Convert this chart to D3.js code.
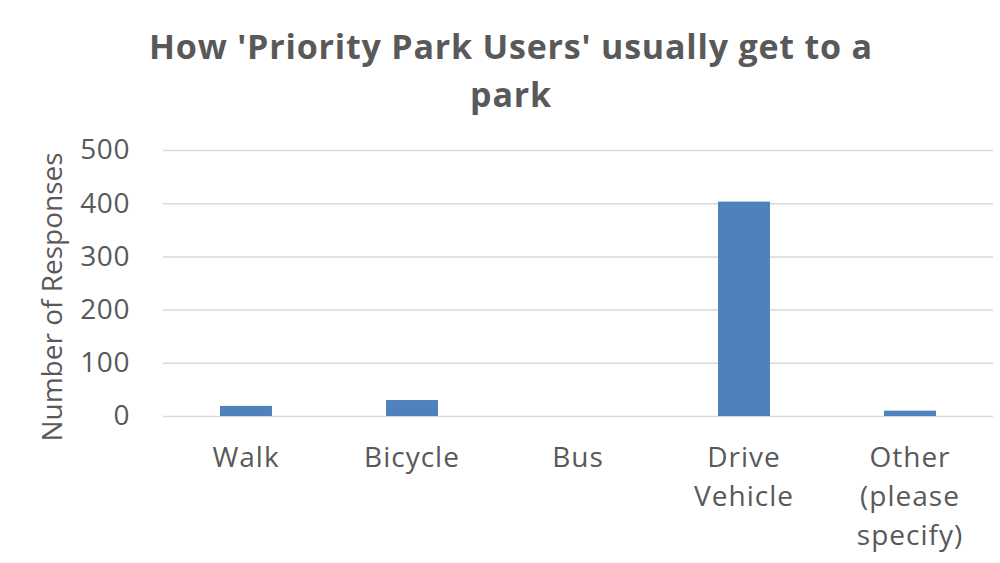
<!DOCTYPE html>
<html><head><meta charset="utf-8">
<script src="https://cdn.jsdelivr.net/npm/d3@7"></script>
<style>body{margin:0;background:#fff}svg{display:block}</style>
</head><body>
<script>
const categories = ["Walk", "Bicycle", "Bus", "Drive Vehicle", "Other (please specify)"];
const values = [19, 30, 0, 403, 10];
const yTicks = [0, 100, 200, 300, 400, 500];
const titleLines = ["How 'Priority Park Users' usually get to a", "park"];
const yTitle = "Number of Responses";

const W = 1000, H = 563;
const m = {left: 163, right: 7, top: 150, bottom: 147};
const svg = d3.select("body").append("svg").attr("width", W).attr("height", H);
const font = "'Open Sans', 'Liberation Sans', sans-serif";
const grey = "#595959";

const x = d3.scaleBand().domain(categories).range([m.left, W - m.right]).paddingInner(0.687).paddingOuter(0.3435);
const y = d3.scaleLinear().domain([0, 500]).range([H - m.bottom, m.top]);

// gridlines
const yAxis = d3.axisLeft(y).tickValues(yTicks).tickSize(-(W - m.right - m.left)).tickPadding(33);
const gy = svg.append("g").attr("transform", `translate(${m.left},0)`).call(yAxis);
gy.select(".domain").remove();
gy.selectAll(".tick line").attr("stroke", "#d9d9d9").attr("stroke-width", 1.5);
gy.selectAll(".tick text").attr("fill", grey).style("font-family", font).style("font-size", "28px").style("letter-spacing", "0.6px");

// bars
svg.append("g").selectAll("rect").data(categories).join("rect")
  .attr("x", d => x(d)).attr("width", x.bandwidth())
  .attr("y", (d, i) => y(values[i])).attr("height", (d, i) => y(0) - y(values[i]))
  .attr("fill", "#4f81bd");

// x labels
const xAxis = d3.axisBottom(x).tickSize(0).tickPadding(31);
const gx = svg.append("g").attr("transform", `translate(0,${y(0)})`).call(xAxis);
gx.select(".domain").remove();
gx.selectAll(".tick text").attr("fill", grey).style("font-family", font).style("font-size", "28px").style("letter-spacing", "1px")
  .each(function(d) {
    const t = d3.select(this);
    const words = d.split(" ");
    t.text(null);
    let lines = [], cur = [];
    const tmp = t.append("tspan");
    words.forEach(w => {
      cur.push(w);
      tmp.text(cur.join(" "));
      if (tmp.node().getComputedTextLength() > 150 && cur.length > 1) {
        cur.pop(); lines.push(cur.join(" ")); cur = [w];
      }
    });
    lines.push(cur.join(" "));
    tmp.remove();
    lines.forEach((l, i) => t.append("tspan").attr("x", 0).attr("dy", i === 0 ? "0.71em" : "1.4em").text(l));
  });

// title
svg.append("text").attr("text-anchor", "middle").attr("fill", grey)
  .style("font-family", font).style("font-size", "34px").style("font-weight", "bold").style("letter-spacing", "0.8px")
  .selectAll("tspan").data(titleLines).join("tspan")
  .attr("x", 511).attr("y", (d, i) => 59 + i * 48).text(d => d);

// y title
svg.append("text").attr("transform", `translate(62,${(y(0) + y(500)) / 2 + 14}) rotate(-90)`)
  .attr("text-anchor", "middle").attr("fill", grey)
  .style("font-family", font).style("font-size", "28px").text(yTitle);
</script>
</body></html>
